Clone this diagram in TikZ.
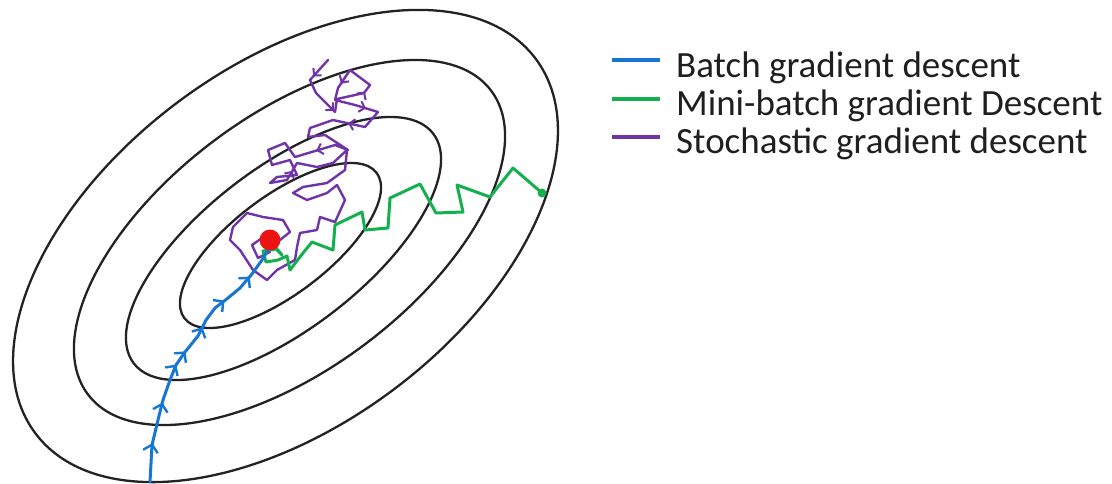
\documentclass[tikz,border=0pt]{standalone}
\usepackage{fontspec}
\setmainfont{Carlito}
\usetikzlibrary{decorations.markings,arrows.meta}
\definecolor{bgdblue}{RGB}{22,118,210}
\definecolor{mbgreen}{RGB}{20,176,80}
\definecolor{sgpurple}{RGB}{112,52,168}
\definecolor{contourgray}{RGB}{35,35,35}
\definecolor{dotred}{RGB}{235,20,20}
\tikzset{
  contour/.style={draw=contourgray, line width=2.3pt},
  bluepath/.style={draw=bgdblue, line width=3pt, line join=round, line cap=round},
  greenpath/.style={draw=mbgreen, line width=3pt, line join=round, line cap=round},
  purplepath/.style={draw=sgpurple, line width=2.4pt, line join=round, line cap=round},
  legline/.style={line width=3.2pt},
  legtext/.style={anchor=base west, inner sep=0pt, font=\fontsize{37}{40}\selectfont, text=black!88},
  bluetip/.style={decoration={markings,
     mark=at position 0.145 with {\arrow{Straight Barb[length=7pt,width=15pt,line width=2.4pt]}},
     mark=at position 0.30 with {\arrow{Straight Barb[length=7pt,width=15pt,line width=2.4pt]}},
     mark=at position 0.45 with {\arrow{Straight Barb[length=7pt,width=15pt,line width=2.4pt]}},
     mark=at position 0.51 with {\arrow{Straight Barb[length=7pt,width=15pt,line width=2.4pt]}},
     mark=at position 0.62 with {\arrow{Straight Barb[length=7pt,width=15pt,line width=2.4pt]}},
     mark=at position 0.75 with {\arrow{Straight Barb[length=7pt,width=15pt,line width=2.4pt]}},
     mark=at position 0.88 with {\arrow{Straight Barb[length=7pt,width=15pt,line width=2.4pt]}}},
     postaction={decorate}},
  purpletip/.style={decoration={markings,
     mark=at position 0.02 with {\arrow{Straight Barb[length=5pt,width=11pt,line width=2pt]}},
     mark=at position 0.06 with {\arrow{Straight Barb[length=5pt,width=11pt,line width=2pt]}},
     mark=at position 0.10 with {\arrow{Straight Barb[length=5pt,width=11pt,line width=2pt]}},
     mark=at position 0.145 with {\arrow{Straight Barb[length=5pt,width=11pt,line width=2pt]}},
     mark=at position 0.19 with {\arrow{Straight Barb[length=5pt,width=11pt,line width=2pt]}},
     mark=at position 0.235 with {\arrow{Straight Barb[length=5pt,width=11pt,line width=2pt]}},
     mark=at position 0.35 with {\arrow{Straight Barb[length=5pt,width=11pt,line width=2pt]}},
     mark=at position 0.5 with {\arrow{Straight Barb[length=5pt,width=11pt,line width=2pt]}}},
     postaction={decorate}}
}
\begin{document}
\begin{tikzpicture}[x=1pt,y=-1pt]
\useasboundingbox[fill=white] (0,0) rectangle (1112,483);

% contour ellipses
\draw[contour] (285.5,246) circle[x radius=312.5, y radius=179.7, rotate=36.8];
\draw[contour] (289.5,242.5) circle[x radius=252.4, y radius=126.7, rotate=37];
\draw[contour] (283.5,248.5) circle[x radius=188.7, y radius=80.7, rotate=37.5];
\draw[contour] (280.5,245.5) circle[x radius=120.5, y radius=48.9, rotate=37.1];

% stochastic gradient descent
\draw[purplepath, purpletip] (328,60) -- (310,80) -- (316,93) -- (335,112) -- (337,99) -- (364,93)
  -- (370,85) -- (350,70) -- (338,88) -- (335,100) -- (355,105) -- (378,112) -- (365,127)
  -- (333,120) -- (310,128) -- (308,137) -- (325,135) -- (348,150) -- (335,145) -- (295,157)
  -- (285,143) -- (268,150) -- (272,165) -- (290,160) -- (297,175) -- (277,177) -- (270,183)
  -- (287,180) -- (297,163) -- (317,167) -- (333,163) -- (347,150) -- (345,170) -- (327,183)
  -- (303,187) -- (293,193) -- (307,200) -- (327,193) -- (337,185) -- (345,200) -- (335,222)
  -- (320,217) -- (317,230) -- (300,233) -- (297,247) -- (295,260) -- (277,270) -- (267,280)
  -- (253,270) -- (240,250) -- (230,240) -- (233,227) -- (247,213) -- (263,217) -- (283,220)
  -- (290,232) -- (280,240) -- (262,238) -- (252,245) -- (258,258) -- (270,252);

% mini-batch gradient descent
\draw[greenpath] (542,193) -- (513,168) -- (490,197) -- (457,185) -- (463,212) -- (436,213)
  -- (420,184) -- (390,198) -- (388,228) -- (365,230) -- (362,212) -- (335,225) -- (333,250)
  -- (312,242) -- (303,253) -- (290,270) -- (287,256) -- (278,260) -- (266,262) -- (263,251)
  -- (276,249) -- (282,255) -- (272,243);
\fill[mbgreen] (542,193) circle[radius=4.5];

% batch gradient descent
\draw[bluepath, bluetip] (150,482) -- (152,445) -- (158,420) -- (163,400) -- (170,380)
  -- (176,365) -- (185,352) -- (198,336) -- (206,320) -- (215,308) -- (228,298)
  -- (240,288) -- (252,274) -- (262,260) -- (268,250);

% minimum
\fill[dotred] (270,240) circle[radius=10.5];

% legend
\draw[legline, bgdblue] (612,60) -- (660,60);
\draw[legline, mbgreen] (612,99) -- (660,99);
\draw[legline, sgpurple] (612,137) -- (660,137);
\node[legtext] (lb) at (676,77) {Batch gradient descent};
\node[legtext] (lm) at (676,115) {Mini-batch gradient Descent};
\node[legtext] (ls) at (676,153) {Stochastic gradient descent};
\end{tikzpicture}
\end{document}
